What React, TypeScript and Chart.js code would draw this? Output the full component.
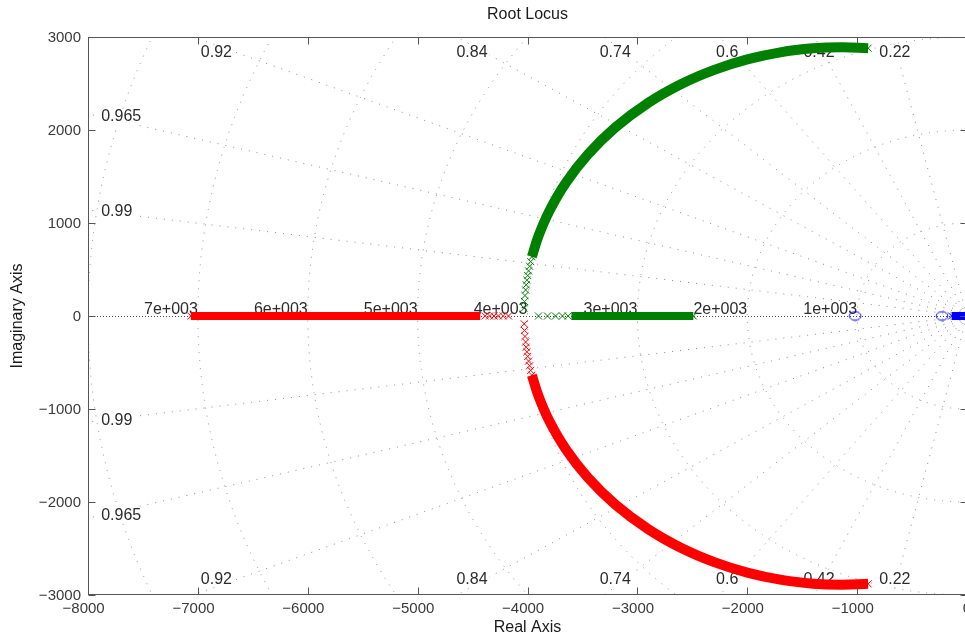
import React, { useEffect, useRef } from "react";
import { Chart, registerables } from "chart.js";

Chart.register(...registerables);

const FONT = '"Liberation Sans", Arial, Helvetica, sans-serif';
const CANVAS_W = 990;
const CANVAS_H = 638;

// axis limits and ticks
const xMin = -8000;
const xMax = 0;
const yMin = -3000;
const yMax = 3000;
const xTicks = [-8000, -7000, -6000, -5000, -4000, -3000, -2000, -1000, 0];
const yTicks = [-3000, -2000, -1000, 0, 1000, 2000, 3000];

// s-plane grid: damping ratios and natural-frequency circles
const dampingEdgeTop = [0.22, 0.42, 0.6, 0.74, 0.84, 0.92];
const dampingEdgeLeft = [0.965, 0.99];
const wnCircles = [1000, 2000, 3000, 4000, 5000, 6000, 7000, 8000];
const wnLabelled = [1000, 2000, 3000, 4000, 5000, 6000, 7000];

// complex branch, upper half: open-loop pole down to the break-in point
const upperArcRe = [-900, -1141, -1400, -1700, -2000, -2300, -2600, -2900, -3200, -3450, -3650, -3800, -3900, -3960];
const upperArcIm = [2880, 2890, 2878, 2835, 2759, 2647, 2495, 2293, 2028, 1738, 1434, 1132, 860, 637];
const upperTailRe = [-3960, -3971, -3981, -3990, -3998, -4005, -4012, -4017, -4023, -4027, -4030];
const upperTailIm = [637, 585, 535, 485, 435, 385, 335, 280, 220, 155, 85];

// complex branch, lower half (conjugate)
const lowerArcRe = [-900, -1141, -1400, -1700, -2000, -2300, -2600, -2900, -3200, -3450, -3650, -3800, -3900, -3960];
const lowerArcIm = [-2880, -2890, -2878, -2835, -2759, -2647, -2495, -2293, -2028, -1738, -1434, -1132, -860, -637];
const lowerTailRe = [-3960, -3971, -3981, -3990, -3998, -4005, -4012, -4017, -4023, -4027, -4030];
const lowerTailIm = [-637, -585, -535, -485, -435, -385, -335, -280, -220, -155, -85];

// real-axis segments after break-in
const greenRealBand = [-3600, -2491];
const greenRealSparse = [-3900, -3818, -3745, -3682, -3630];
const redRealBand = [-4430, -7064];
const redRealSparse = [-4173, -4220, -4265, -4305, -4345, -4385];
const blueRealBand = [-140, 0];
const openLoopZeros = [-1018, -227];

const RED = "#ff0000";
const GREEN = "#008000";
const BLUE = "#0000ff";

const pts = (re: number[], im: number[]) => re.map((r, i) => ({ x: r, y: im[i] }));
const realPts = (re: number[]) => re.map((r) => ({ x: r, y: 0 }));

const band = (data: { x: number; y: number }[], color: string, width: number) => ({
  data,
  showLine: true,
  borderColor: color,
  backgroundColor: color,
  borderWidth: width,
  borderCapStyle: "butt" as const,
  borderJoinStyle: "round" as const,
  tension: 0.4,
  pointRadius: 0,
  pointHoverRadius: 0,
  fill: false,
});

const marks = (data: { x: number; y: number }[], color: string) => ({
  data,
  showLine: false,
  pointStyle: "crossRot" as const,
  pointRadius: 5,
  pointHoverRadius: 5,
  borderColor: color,
  backgroundColor: color,
  pointBorderWidth: 1,
});

function boxedLabel(ctx: CanvasRenderingContext2D, text: string, x: number, y: number, align: "left" | "center") {
  const w = ctx.measureText(text).width;
  const x0 = align === "center" ? x - w / 2 : x;
  ctx.fillStyle = "#ffffff";
  ctx.fillRect(x0 - 2, y - 8, w + 4, 16);
  ctx.fillStyle = "#2b2b2b";
  ctx.textAlign = "left";
  ctx.textBaseline = "middle";
  ctx.fillText(text, x0, y);
}

const sgridPlugin = {
  id: "sgrid",
  beforeDatasetsDraw(chart: any) {
    const { ctx, chartArea: ca, scales } = chart;
    const px = (v: number) => scales.x.getPixelForValue(v);
    const py = (v: number) => scales.y.getPixelForValue(v);
    const ox = px(0);
    const oy = py(0);
    ctx.save();
    ctx.beginPath();
    ctx.rect(ca.left, ca.top, ca.right - ca.left, ca.bottom - ca.top);
    ctx.clip();

    ctx.lineWidth = 1;
    ctx.strokeStyle = "#8c8c8c";
    ctx.setLineDash([1, 7]);
    for (const wn of wnCircles) {
      ctx.beginPath();
      ctx.ellipse(ox, oy, ox - px(-wn), py(-wn) - oy, 0, Math.PI / 2, Math.PI * 1.5);
      ctx.stroke();
    }
    const far = 20000;
    for (const z of [...dampingEdgeTop, ...dampingEdgeLeft]) {
      const s = Math.sqrt(1 - z * z);
      for (const sign of [1, -1]) {
        ctx.beginPath();
        ctx.moveTo(ox, oy);
        ctx.lineTo(px(-z * far), py(sign * s * far));
        ctx.stroke();
      }
    }
    // real axis
    ctx.strokeStyle = "#4a4a4a";
    ctx.setLineDash([1, 2]);
    ctx.beginPath();
    ctx.moveTo(ca.left, Math.round(oy) + 0.5);
    ctx.lineTo(ca.right, Math.round(oy) + 0.5);
    ctx.stroke();
    ctx.setLineDash([]);

    ctx.font = `16px ${FONT}`;
    // damping labels along top and bottom borders
    const rowIm = yMax * 0.97;
    for (const z of dampingEdgeTop) {
      const s = Math.sqrt(1 - z * z);
      const re = (-rowIm * z) / s;
      boxedLabel(ctx, String(z), px(re), py(rowIm) + 7.5, "center");
      boxedLabel(ctx, String(z), px(re), py(-rowIm) - 7.5, "center");
    }
    // damping labels along left border
    const colRe = xMin * 0.985;
    for (const z of dampingEdgeLeft) {
      const s = Math.sqrt(1 - z * z);
      const im = (-colRe * s) / z;
      boxedLabel(ctx, String(z), px(colRe), py(im), "left");
      boxedLabel(ctx, String(z), px(colRe), py(-im), "left");
    }
    // natural frequency labels on the real axis
    ctx.fillStyle = "#2b2b2b";
    ctx.textAlign = "right";
    ctx.textBaseline = "alphabetic";
    for (const wn of wnLabelled) {
      ctx.fillText(`${wn / 1000}e+003`, px(-wn), oy - 2.5);
    }
    ctx.restore();
  },
  afterDatasetsDraw(chart: any) {
    const { ctx, chartArea: ca, scales } = chart;
    const px = (v: number) => scales.x.getPixelForValue(v);
    const py = (v: number) => scales.y.getPixelForValue(v);
    ctx.save();
    ctx.strokeStyle = "#555555";
    ctx.lineWidth = 1;
    const L = Math.round(ca.left) + 0.5;
    const R = Math.round(ca.right) + 0.5;
    const T = Math.round(ca.top) + 0.5;
    const B = Math.round(ca.bottom) - 0.5;
    ctx.strokeRect(L, T, R - L, B - T);
    const tl = 7;
    ctx.beginPath();
    for (const v of xTicks) {
      const x = Math.round(px(v)) + 0.5;
      ctx.moveTo(x, B);
      ctx.lineTo(x, B - tl);
      ctx.moveTo(x, T);
      ctx.lineTo(x, T + tl);
    }
    for (const v of yTicks) {
      const y = Math.round(py(v)) + 0.5;
      ctx.moveTo(L, y);
      ctx.lineTo(L + tl, y);
      ctx.moveTo(R, y);
      ctx.lineTo(R - tl, y);
    }
    ctx.stroke();
    ctx.restore();
  },
  afterDraw(chart: any) {
    const { ctx, chartArea: ca, scales } = chart;
    const px = (v: number) => scales.x.getPixelForValue(v);
    const py = (v: number) => scales.y.getPixelForValue(v);
    const fmt = (v: number) => (v < 0 ? "\u2212" + Math.abs(v) : String(v));
    ctx.save();
    ctx.font = `15px ${FONT}`;
    ctx.fillStyle = "#3a3a3a";
    ctx.textBaseline = "middle";
    // x tick labels: digits centred on the tick, sign hanging to the left
    ctx.textAlign = "left";
    for (const v of xTicks) {
      const digits = String(Math.abs(v));
      const wd = ctx.measureText(digits).width;
      const wt = ctx.measureText(fmt(v)).width;
      ctx.fillText(fmt(v), px(v) - wd / 2 - (wt - wd), ca.bottom + 13.5);
    }
    ctx.textAlign = "right";
    for (const v of yTicks) {
      ctx.fillText(fmt(v), ca.left - 7, py(v) + 0.5);
    }
    ctx.font = `16px ${FONT}`;
    ctx.fillStyle = "#1a1a1a";
    ctx.textAlign = "center";
    const cx = (ca.left + ca.right) / 2;
    ctx.fillText("Root Locus", cx, 15);
    ctx.fillText("Real Axis", cx, 628);
    ctx.translate(18, (ca.top + ca.bottom) / 2);
    ctx.rotate(-Math.PI / 2);
    ctx.fillText("Imaginary Axis", 0, 0);
    ctx.restore();
  },
};

export default function App() {
  const ref = useRef<HTMLCanvasElement>(null);

  useEffect(() => {
    const canvas = ref.current;
    if (!canvas) return;

    const zeroMark = document.createElement("canvas");
    zeroMark.width = 14;
    zeroMark.height = 11;
    const zc = zeroMark.getContext("2d")!;
    zc.strokeStyle = BLUE;
    zc.lineWidth = 1;
    zc.beginPath();
    zc.ellipse(7, 5.5, 5.8, 4.3, 0, 0, Math.PI * 2);
    zc.stroke();

    const chart = new Chart(canvas, {
      type: "scatter",
      data: {
        datasets: [
          band(pts(upperArcRe, upperArcIm), GREEN, 10),
          marks([...pts([upperArcRe[0]], [upperArcIm[0]]), ...pts(upperTailRe, upperTailIm)], GREEN),
          band(realPts(greenRealBand), GREEN, 8),
          marks(realPts([...greenRealSparse, greenRealBand[1]]), GREEN),
          band(pts(lowerArcRe, lowerArcIm), RED, 10),
          marks([...pts([lowerArcRe[0]], [lowerArcIm[0]]), ...pts(lowerTailRe, lowerTailIm)], RED),
          band(realPts(redRealBand), RED, 8),
          marks(realPts([...redRealSparse, redRealBand[1]]), RED),
          band(realPts(blueRealBand), BLUE, 8),
          marks(realPts([blueRealBand[0]]), BLUE),
          {
            data: realPts(openLoopZeros),
            showLine: false,
            pointStyle: zeroMark as any,
            pointRadius: 6,
            borderColor: BLUE,
            backgroundColor: "rgba(0,0,0,0)",
          },
        ] as any,
      },
      options: {
        responsive: false,
        maintainAspectRatio: false,
        animation: false,
        events: [],
        layout: { padding: { left: 88, top: 37, right: CANVAS_W - 967, bottom: CANVAS_H - 595 } },
        plugins: {
          legend: { display: false },
          tooltip: { enabled: false },
          title: { display: false },
        },
        scales: {
          x: { type: "linear", min: xMin, max: xMax, display: false },
          y: { type: "linear", min: yMin, max: yMax, display: false },
        },
      },
      plugins: [sgridPlugin],
    });

    return () => chart.destroy();
  }, []);

  return (
    <div
      style={{
        position: "absolute",
        left: 0,
        top: 0,
        width: 965,
        height: 638,
        overflow: "hidden",
        background: "#ffffff",
      }}
    >
      <canvas ref={ref} width={CANVAS_W} height={CANVAS_H} style={{ display: "block", width: CANVAS_W, height: CANVAS_H }} />
    </div>
  );
}
